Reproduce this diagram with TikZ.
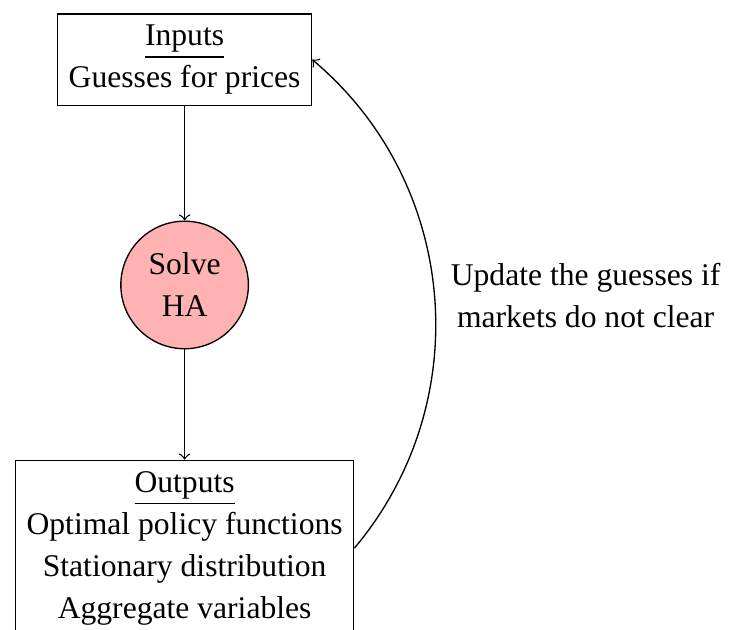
\documentclass[tikz,border=0pt]{standalone}
\usepackage{fontspec}
\setmainfont{Liberation Serif}
\begin{document}
\begin{tikzpicture}[
    box/.style={draw, align=center, font=\fontsize{9.5pt}{12.6pt}\selectfont},
    solver/.style={circle, draw, fill=red!30, align=center, minimum size=1.31cm, font=\fontsize{9.5pt}{12.6pt}\selectfont}
  ]
            \useasboundingbox (0,0) rectangle (7.70,6.65);

            % 价格猜测 (输入)
            \node[box] (inputs) at (1.95,6.02) {\underline{Inputs}\\Guesses for prices};

            % 求解 HA 模型
            \node[solver] (solve) at (1.95,3.64) {Solve\\HA};

            % 输出
            \node[box, anchor=north] (outputs) at (1.95,1.795) {\underline{Outputs}\\Optimal policy functions\\Stationary distribution\\Aggregate variables};

            % 箭头
            \draw[->] (inputs) -- (solve);
            \draw[->] (solve) -- (outputs);

            % 更新猜测的回路
            \draw[->] (outputs.east) to[bend right=45]
                node[right=0.05cm, align=center, font=\fontsize{9.5pt}{12.6pt}\selectfont] (update) {Update the guesses if\\markets do not clear} (inputs.east);
        \end{tikzpicture}
\end{document}
